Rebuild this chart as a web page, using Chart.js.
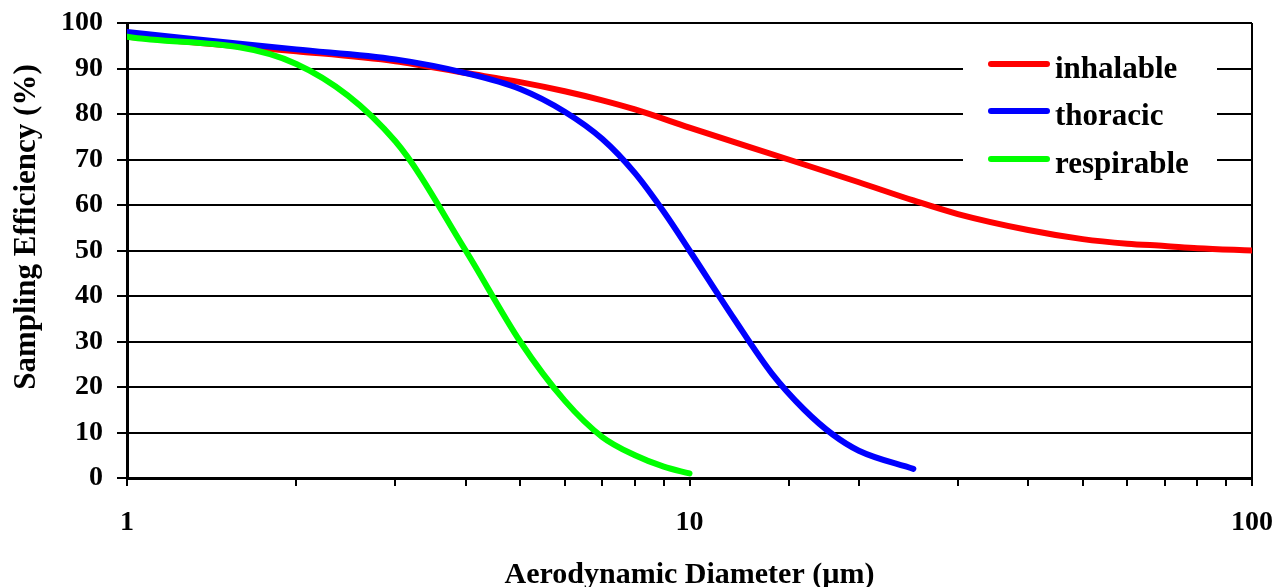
<!DOCTYPE html>
<html>
<head>
<meta charset="utf-8">
<script src="https://cdn.jsdelivr.net/npm/chart.js@4/dist/chart.umd.min.js"></script>
<style>
  body { margin: 0; background: #fff; }
  canvas { display: block; }
</style>
</head>
<body>
<canvas id="effChart" width="1277" height="587"></canvas>
<script>
// ===== DATA =====
const seriesNames = ["inhalable", "thoracic", "respirable"];
const seriesColors = ["#ff0000", "#0000ff", "#00ff00"];

const inhalableDiam = [1, 2, 3, 4, 5, 6, 7, 8, 10, 15, 20, 25, 30, 40, 50, 60, 70, 80, 100];
const inhalableEff  = [97, 93.8, 91.6, 89, 87, 85, 83, 81, 77, 70, 65, 61, 58, 54.5, 52.5, 51.5, 51, 50.5, 50];

const thoracicDiam = [1, 2, 3, 4, 5, 6, 7, 8, 9, 10, 12, 14, 16, 18, 20, 25];
const thoracicEff  = [98, 94.2, 92, 89, 85.5, 80.5, 74.5, 67, 58.5, 50, 35, 23, 15, 9.5, 6, 2];

const respirableDiam = [1, 2, 3, 4, 5, 6, 7, 8, 9, 10];
const respirableEff  = [97, 91, 74, 50, 30, 17, 9, 5, 2.5, 1];

const xLabelTicks = [1, 10, 100];
const yTickStep = 10;

const xTitle = "Aerodynamic Diameter (\u00b5m)";
const yTitle = "Sampling Efficiency (%)";

// ===== HELPERS =====
const FONT = '"Liberation Serif", "Times New Roman", serif';

function toPoints(xs, ys) {
  return xs.map((x, i) => ({ x: x, y: ys[i] }));
}

function lineSet(i, xs, ys, order) {
  return {
    label: seriesNames[i],
    data: toPoints(xs, ys),
    borderColor: seriesColors[i],
    backgroundColor: seriesColors[i],
    borderWidth: 6,
    borderCapStyle: "round",
    borderJoinStyle: "round",
    pointRadius: 0,
    cubicInterpolationMode: "monotone",
    order: order
  };
}

// legend box sitting on top of the grid, plus the two axis titles
const extrasPlugin = {
  id: "extras",
  beforeDatasetsDraw(chart) {
    const ctx = chart.ctx;
    ctx.save();
    ctx.fillStyle = "#fff";
    ctx.fillRect(963, 40, 254, 143);
    ctx.restore();
  },
  afterDatasetsDraw(chart) {
    const ctx = chart.ctx;
    ctx.save();
    // legend
    const rows = [64, 111, 159];
    ctx.font = "bold 31px " + FONT;
    ctx.textAlign = "left";
    ctx.textBaseline = "alphabetic";
    rows.forEach((y, i) => {
      ctx.strokeStyle = seriesColors[i];
      ctx.lineWidth = 6;
      ctx.lineCap = "round";
      ctx.beginPath();
      ctx.moveTo(991, y);
      ctx.lineTo(1047, y);
      ctx.stroke();
      ctx.fillStyle = "#000";
      ctx.fillText(seriesNames[i], 1055, y + 14);
    });

    // axis titles
    ctx.font = "bold 30px " + FONT;
    ctx.fillStyle = "#000";
    ctx.textAlign = "center";
    ctx.fillText(xTitle, (chart.chartArea.left + chart.chartArea.right) / 2, 583);

    ctx.font = "bold 31px " + FONT;
    ctx.translate(35, 227);
    ctx.rotate(-Math.PI / 2);
    ctx.fillText(yTitle, 0, 0);
    ctx.restore();
  }
};

// ===== CHART SETUP =====
const effChart = new Chart(
  document.getElementById("effChart"),
  {
    type: "line",
    data: {
      datasets: [
        lineSet(0, inhalableDiam, inhalableEff, 3),
        lineSet(1, thoracicDiam, thoracicEff, 2),
        lineSet(2, respirableDiam, respirableEff, 1)
      ]
    },
    options: {
      responsive: false,
      animation: false,
      devicePixelRatio: 1,
      layout: { padding: { left: 0, right: 25, top: 23, bottom: 0 } },
      plugins: {
        legend: { display: false },
        tooltip: { enabled: false }
      },
      scales: {
        x: {
          type: "logarithmic",
          min: 1,
          max: 100,
          afterFit(scale) {
            scale.height = 109;
            scale.paddingLeft = 0;
            scale.paddingRight = 0;
          },
          border: { display: true, color: "#000", width: 3 },
          grid: {
            drawOnChartArea: true,
            color: (c) => (c.tick && c.tick.value === 100 ? "#000" : "rgba(0,0,0,0)"),
            tickColor: "#000",
            lineWidth: 2,
            tickLength: 8,
            tickWidth: 2
          },
          ticks: {
            autoSkip: false,
            maxRotation: 0,
            padding: 20,
            color: "#000",
            font: { family: FONT, size: 28, weight: "bold" },
            callback: (v) => (xLabelTicks.includes(v) ? String(v) : "")
          }
        },
        y: {
          min: 0,
          max: 100,
          afterFit(scale) {
            scale.width = 127;
            scale.paddingTop = 0;
            scale.paddingBottom = 0;
          },
          border: { display: true, color: "#000", width: 3 },
          grid: {
            color: "#000",
            lineWidth: 2,
            tickLength: 10
          },
          ticks: {
            stepSize: yTickStep,
            padding: 14,
            color: "#000",
            font: { family: FONT, size: 28, weight: "bold" }
          }
        }
      }
    },
    plugins: [extrasPlugin]
  }
);
</script>
</body>
</html>
